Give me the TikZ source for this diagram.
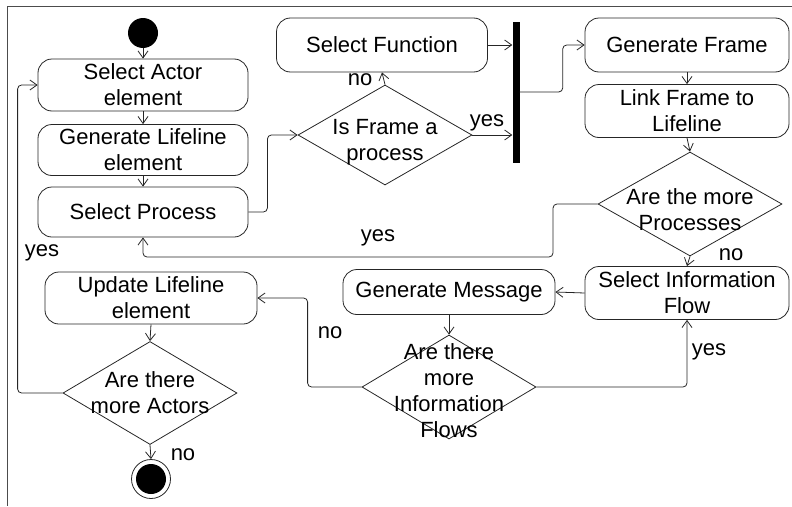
\documentclass[tikz,border=0pt]{standalone}
\usepackage{fontspec}
\setmainfont{Liberation Sans}
\usetikzlibrary{shapes.geometric,arrows.meta}

\tikzset{
  act/.style={draw=black!85, line width=0.8pt, rounded corners=14pt, align=center,
              inner sep=0pt, minimum width=#1},
  act/.default=210pt,
  dec/.style={draw=black!85, line width=0.8pt, diamond, inner sep=0pt},
  flow/.style={draw=black!85, line width=0.8pt, rounded corners=4pt,
               -{Straight Barb[length=7pt,width=10pt]}},
  tag/.style={inner sep=0pt},
  dectext/.style={align=center, inner sep=0pt}
}

\begin{document}
\begin{tikzpicture}[x=1pt, y=-1pt, font=\fontsize{22}{26}\selectfont]
\useasboundingbox (0,0) rectangle (792,506);

% outer frame (top and left sides)
\draw[black!70, line width=0.8pt] (792,6.5) -- (7,6.5) -- (7,506);

% start and actor / lifeline steps
\node[circle, fill=black, minimum size=30pt, inner sep=0pt] (start) at (143,33) {};
\node[act, minimum height=52pt] (actor) at (143,85) {Select Actor\\element};
\node[act, minimum height=51pt] (genlife) at (143,150) {Generate Lifeline\\element};
\node[act, minimum height=50pt] (selproc) at (143,212) {Select Process};

% frame decision and function selection
\node[dec, minimum width=174pt, minimum height=100pt,
      label={[dectext, yshift=-7pt]center:Is Frame a\\process}] (isframe) at (385,135) {};
\node[act=211pt, minimum height=54pt] (selfunc) at (382,45) {Select Function};

% synchronisation bar
\node[fill=black, minimum width=7pt, minimum height=141pt, inner sep=0pt] (bar) at (516,92) {};

% frame generation branch
\node[act=204pt, minimum height=54pt] (genframe) at (687,45) {Generate Frame};
\node[act=204pt, minimum height=53pt] (linkframe) at (687,111) {Link Frame to\\Lifeline};
\node[dec, minimum width=184pt, minimum height=104pt,
      label={[dectext, yshift=-6pt]center:Are the more\\Processes}] (moreproc) at (690,204) {};

% information flow loop
\node[act=204pt, minimum height=53pt] (selinfo) at (687,293) {Select Information\\Flow};
\node[act=212pt, minimum height=45pt] (genmsg) at (449,292) {Generate Message};
\node[dec, minimum width=174pt, minimum height=104pt,
      label={[dectext, yshift=-4pt]center:Are there\\more\\Information\\Flows}] (moreinfo) at (449,387) {};

% actor loop and end
\node[act=212pt, minimum height=52pt] (updlife) at (151,298) {Update Lifeline\\element};
\node[dec, minimum width=174pt, minimum height=103pt,
      label={[dectext]center:Are there\\more Actors}] (moreact) at (150,393) {};
\node[circle, draw=black!85, line width=0.8pt, minimum size=39pt, inner sep=0pt,
      path picture={\fill[black] (path picture bounding box.center) circle[radius=15pt];}]
      (stop) at (151,479) {};

\coordinate (procback) at (553,257);

% connectors
\draw[flow] (start) -- (actor);
\draw[flow] (actor) -- (genlife);
\draw[flow] (genlife) -- (selproc);
\draw[flow] (selproc.east) -- ++(19,0) |- (isframe.west);
\draw[flow] (isframe.north) -- (selfunc.south);
\draw[flow] (selfunc.east) -- (selfunc.east -| bar.west);
\draw[flow] (isframe.east) -- (isframe.east -| bar.west);
\draw[flow] (bar.east) -- ++(43,0) |- (genframe.west);
\draw[flow] (genframe) -- (linkframe);
\draw[flow] (linkframe.south) -- (moreproc.north);
\draw[flow] (moreproc.west) -| (procback) -| (selproc.south);
\draw[flow] (moreproc.south) -- (selinfo.north);
\draw[flow] (selinfo.west) -- (genmsg.east);
\draw[flow] (genmsg.south) -- (moreinfo.north);
\draw[flow] (moreinfo.east) -| (selinfo.south);
\draw[flow] (moreinfo.west) -- ++(-54,0) |- (updlife.east);
\draw[flow] (updlife.south) -- (moreact.north);
\draw[flow] (moreact.west) -- ++(-45,0) |- (actor.west);
\draw[flow] (moreact.south) -- (stop.north);

% guard labels
\node[tag] (lno1) at (360,80) {no};
\node[tag] (lyes1) at (487,123) {yes};
\node[tag] (lyes2) at (378,238) {yes};
\node[tag] (lno2) at (731,255) {no};
\node[tag] (lyes3) at (42,253) {yes};
\node[tag] (lno3) at (330,333) {no};
\node[tag] (lyes4) at (709,352) {yes};
\node[tag] (lno4) at (183,455) {no};
\end{tikzpicture}
\end{document}
